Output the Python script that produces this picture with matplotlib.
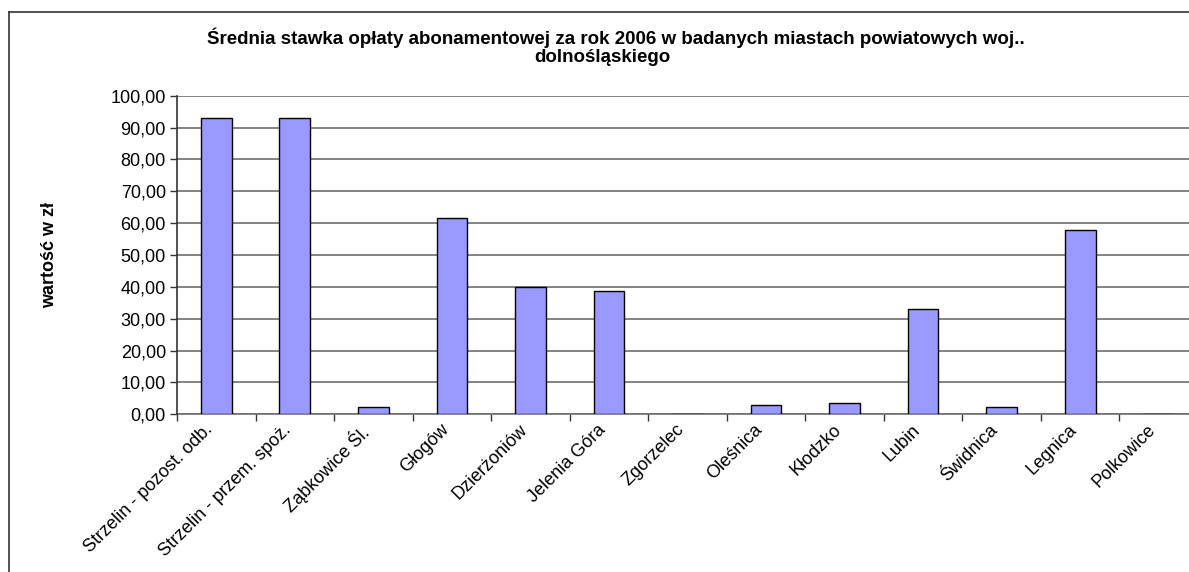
import matplotlib
matplotlib.use("Agg")
import matplotlib.pyplot as plt
from matplotlib.lines import Line2D
from matplotlib.ticker import FixedLocator, FuncFormatter

plt.rcParams['font.family'] = ['Liberation Sans', 'DejaVu Sans']

categories = ["Strzelin - pozost. odb.", "Strzelin - przem. spoż.", "Ząbkowice Śl.",
              "Głogów", "Dzierżoniów", "Jelenia Góra", "Zgorzelec", "Oleśnica",
              "Kłodzko", "Lubin", "Świdnica", "Legnica", "Polkowice"]
values = [92.9, 92.9, 2.4, 61.5, 40.0, 38.8, 0.0, 2.9, 3.4, 33.0, 2.4, 57.9, 0.0]
yticks = [0, 10, 20, 30, 40, 50, 60, 70, 80, 90, 100]
title_line1 = "Średnia stawka opłaty abonamentowej za rok 2006 w badanych miastach powiatowych woj.."
title_line2 = "dolnośląskiego"
ylabel = "wartość w zł"

W, H = 1189, 572
fig = plt.figure(figsize=(W / 100, H / 100), dpi=100)
fig.patch.set_facecolor("white")

# chart area border (cropped on right/bottom)
fig.add_artist(Line2D([9 / W, 9 / W], [0, 1 - 12 / H], transform=fig.transFigure,
                      color="#333333", lw=1.2))
fig.add_artist(Line2D([9 / W, 1.0], [1 - 12 / H, 1 - 12 / H], transform=fig.transFigure,
                      color="#333333", lw=1.2))

left, right, top, bottom = 177, 1198, 95.7, 414.3
ax = fig.add_axes([left / W, 1 - bottom / H, (right - left) / W, (bottom - top) / H])
ax.set_facecolor("white")

n = len(categories)
xs = [i + 0.5 for i in range(n)]
ax.bar(xs, values, width=0.39, color="#9999FF", edgecolor="black", linewidth=1.0, zorder=3)

ax.set_xlim(0, n)
ax.set_ylim(0, 100)
ax.set_yticks(yticks)
ax.yaxis.set_major_formatter(FuncFormatter(lambda v, p: f"{v:.2f}".replace(".", ",")))
ax.grid(axis="y", color="#6e6e6e", lw=1.2, zorder=1)

ax.set_xticks(xs)
ax.set_xticklabels(categories, rotation=45, ha="right", fontsize=13)
ax.tick_params(axis="x", which="major", length=0, pad=5)
ax.xaxis.set_minor_locator(FixedLocator(list(range(n + 1))))
ax.tick_params(axis="x", which="minor", length=5, color="#333333", width=1)
ax.tick_params(axis="y", length=5, color="#333333", width=1, labelsize=13, pad=3)

for s in ["top", "right"]:
    ax.spines[s].set_visible(False)
ax.spines["left"].set_color("#333333")
ax.spines["bottom"].set_color("#6e6e6e")
ax.spines["left"].set_linewidth(1.2)
ax.spines["bottom"].set_linewidth(1.2)
ax.spines["left"].set_zorder(4)

fig.text(616 / W, 1 - 38 / H, title_line1, ha="center", va="center", fontsize=13.5,
         fontweight="bold")
fig.text(602 / W, 1 - 58 / H, title_line2, ha="center", va="center", fontsize=13.5,
         fontweight="bold")
fig.text(50 / W, 1 - 255 / H, ylabel, ha="center", va="center", rotation=90,
         fontsize=13, fontweight="bold")

fig.savefig("out.png", dpi=100)
